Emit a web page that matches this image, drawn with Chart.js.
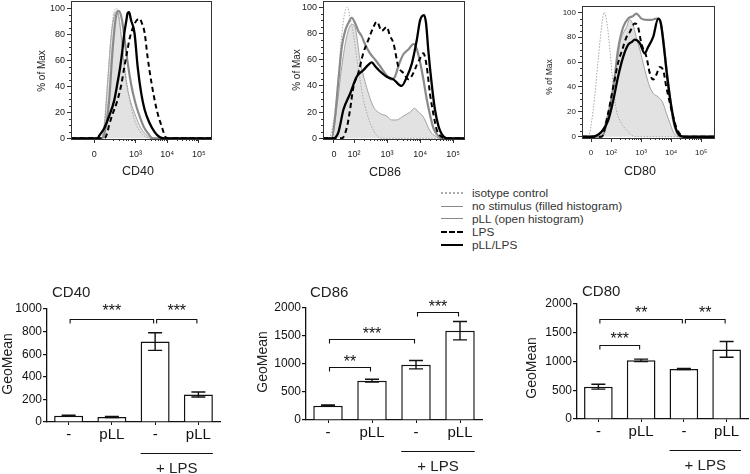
<!DOCTYPE html>
<html><head><meta charset="utf-8">
<script src="https://cdn.jsdelivr.net/npm/chart.js@4.4.1/dist/chart.umd.min.js"></script>
<style>
html,body{margin:0;padding:0;background:#fff;width:750px;height:474px;overflow:hidden;font-family:"Liberation Sans",Arial,sans-serif;}
canvas{position:absolute;}
#legend{position:absolute;left:441px;top:187px;font-size:11.8px;color:#333;}
#legend .row{height:12.8px;display:flex;align-items:center;white-space:nowrap;}
#legend .s{display:inline-block;width:22px;height:0;margin-right:9px;}
</style></head><body>
<canvas id="h40" width="240" height="185" style="left:0;top:0"></canvas>
<canvas id="h86" width="240" height="185" style="left:250px;top:0"></canvas>
<canvas id="h80" width="250" height="185" style="left:500px;top:0"></canvas>
<div id="legend">
  <div class="row"><span class="s" style="border-top:2px dotted #aaa"></span>isotype control</div>
  <div class="row"><span class="s" style="border-top:1.5px solid #888"></span>no stimulus (filled histogram)</div>
  <div class="row"><span class="s" style="border-top:1.5px solid #888"></span>pLL (open histogram)</div>
  <div class="row"><span class="s" style="border-top:2px dashed #000"></span>LPS</div>
  <div class="row"><span class="s" style="border-top:2.5px solid #000"></span>pLL/LPS</div>
</div>
<canvas id="b40" width="235" height="194" style="left:0;top:280px"></canvas>
<canvas id="b86" width="240" height="194" style="left:250px;top:280px"></canvas>
<canvas id="b80" width="250" height="194" style="left:500px;top:280px"></canvas>
<script>
// ---------- Histogram data: [axis position (decade units), % of Max] ----------
const HIST_Y_TICKS = [0, 20, 40, 60, 80, 100];

const CD40_TICK_POS = [1.70, 3, 4, 5];
const CD40_TICK_LABELS = ['0', '10³', '10⁴', '10⁵'];
const CD86_TICK_POS = [1.39, 2, 3, 4, 5];
const CD86_TICK_LABELS = ['0', '10²', '10³', '10⁴', '10⁵'];
const CD80_TICK_POS = [1.33, 2, 3, 4, 5];
const CD80_TICK_LABELS = ['0', '10²', '10³', '10⁴', '10⁵'];

const CD40_ISO = [[0.97,0],[1.90,0],[2.01,10],[2.11,40],[2.22,75],[2.32,97],[2.41,100],[2.48,92],[2.59,70],[2.69,50],[2.80,32],[2.96,15],[3.12,6],[3.33,1],[3.49,0],[5.38,0]];
const CD40_NOSTIM = [[0.97,0],[1.93,0],[2.03,12],[2.13,45],[2.24,80],[2.34,95],[2.43,98],[2.51,88],[2.62,62],[2.72,42],[2.85,28],[3.01,17],[3.17,8],[3.33,3],[3.49,0],[5.38,0]];
const CD40_PLL = [[0.97,0],[1.95,0],[2.07,9],[2.17,29],[2.28,68],[2.39,94],[2.47,98],[2.55,94],[2.62,84],[2.70,68],[2.86,42],[3.00,27],[3.13,17],[3.26,9],[3.39,4],[3.55,0],[5.38,0]];
const CD40_LPS = [[0.97,0],[2.02,0],[2.11,4],[2.17,10],[2.27,18],[2.43,29],[2.56,42],[2.65,55],[2.75,68],[2.81,76],[2.97,88],[3.13,92],[3.21,88],[3.29,81],[3.38,63],[3.51,42],[3.67,22],[3.83,9],[3.95,1],[4.05,0],[5.38,0]];
const CD40_PLLLPS = [[0.97,0],[1.80,0],[1.86,2],[2.02,8],[2.17,17],[2.33,29],[2.43,42],[2.52,55],[2.59,68],[2.65,81],[2.71,90],[2.75,96],[2.80,97],[2.86,91],[2.97,81],[3.07,55],[3.18,35],[3.29,22],[3.44,12],[3.60,5],[3.76,1],[3.90,0],[5.38,0]];

const CD86_ISO = [[1.06,0],[1.22,0],[1.27,1],[1.42,20],[1.53,50],[1.63,80],[1.73,97],[1.80,100],[1.88,92],[1.98,80],[2.08,62],[2.18,45],[2.28,30],[2.38,20],[2.48,12],[2.59,6],[2.69,2],[2.84,0],[5.33,0]];
const CD86_NOSTIM = [[1.06,0],[1.32,0],[1.47,22],[1.63,55],[1.78,78],[1.93,87],[2.03,85],[2.18,60],[2.38,39],[2.59,24],[2.79,19],[2.99,17],[3.14,14],[3.29,14],[3.49,17],[3.70,20],[3.83,23],[3.95,20],[4.05,18],[4.15,14],[4.25,8],[4.35,4],[4.51,1],[4.61,0],[5.33,0]];
const CD86_PLL = [[1.06,0],[1.32,0],[1.42,15],[1.53,45],[1.63,70],[1.73,82],[1.83,88],[1.93,92],[2.03,88],[2.13,82],[2.23,78],[2.33,72],[2.48,65],[2.64,60],[2.79,55],[2.99,48],[3.14,45],[3.24,47],[3.34,55],[3.49,64],[3.65,68],[3.80,72],[3.90,68],[4.00,58],[4.10,45],[4.20,30],[4.30,18],[4.40,8],[4.51,3],[4.66,0],[5.33,0]];
const CD86_LPS = [[1.06,0],[1.63,0],[1.78,8],[1.88,22],[1.98,39],[2.13,50],[2.28,65],[2.43,75],[2.59,85],[2.69,89],[2.84,82],[2.99,85],[3.09,78],[3.19,73],[3.34,55],[3.49,50],[3.65,45],[3.80,50],[3.90,56],[4.00,61],[4.10,65],[4.20,55],[4.30,34],[4.40,19],[4.51,6],[4.66,1],[4.76,0],[5.33,0]];
const CD86_PLLLPS = [[1.06,0],[1.37,0],[1.53,5],[1.68,22],[1.88,34],[2.08,47],[2.28,52],[2.43,56],[2.54,58],[2.64,55],[2.79,51],[2.99,47],[3.19,45],[3.44,40],[3.60,47],[3.75,57],[3.90,75],[4.00,90],[4.12,94],[4.18,88],[4.25,67],[4.35,42],[4.45,22],[4.56,9],[4.66,3],[4.81,0],[5.33,0]];

const CD80_ISO = [[1.03,0],[1.23,0],[1.40,21],[1.57,62],[1.68,88],[1.77,100],[1.88,88],[1.96,70],[2.07,40],[2.18,21],[2.34,11],[2.57,4],[2.79,0],[5.43,0]];
const CD80_NOSTIM = [[1.03,0],[1.57,0],[1.90,19],[2.07,38],[2.18,56],[2.29,75],[2.40,83],[2.51,88],[2.62,94],[2.73,90],[2.84,80],[2.96,70],[3.12,54],[3.29,40],[3.40,35],[3.57,32],[3.73,27],[3.84,19],[3.96,11],[4.07,4],[4.23,0],[5.43,0]];
const CD80_PLL = [[1.03,0],[1.68,0],[1.96,24],[2.12,48],[2.23,70],[2.40,88],[2.57,95],[2.73,97],[2.84,99],[3.01,95],[3.18,94],[3.34,94],[3.51,95],[3.62,94],[3.73,80],[3.84,56],[3.96,32],[4.07,13],[4.18,4],[4.34,0],[5.43,0]];
const CD80_LPS = [[1.03,0],[1.68,0],[1.90,19],[2.07,40],[2.23,59],[2.40,72],[2.51,80],[2.62,84],[2.79,91],[2.90,88],[3.01,75],[3.18,64],[3.29,51],[3.40,46],[3.51,50],[3.62,56],[3.73,54],[3.84,40],[3.96,27],[4.07,16],[4.18,7],[4.34,1],[4.46,0],[5.43,0]];
const CD80_PLLLPS = [[1.03,0],[1.34,0],[1.68,4],[1.90,13],[2.07,29],[2.23,48],[2.40,64],[2.57,74],[2.68,76],[2.79,78],[2.96,75],[3.12,67],[3.23,72],[3.40,80],[3.57,95],[3.66,91],[3.77,70],[3.88,46],[4.01,24],[4.14,8],[4.29,1],[4.46,0],[5.43,0]];

// ---------- Bar chart data ----------
const BAR_CATEGORIES = ['-', 'pLL', '-', 'pLL'];
const CD40_MEAN = [55, 45, 712, 243];
const CD40_ERR = [5, 5, 78, 22];
const CD86_MEAN = [255, 700, 985, 1590];
const CD86_ERR = [12, 25, 75, 163];
const CD80_MEAN = [562, 1020, 870, 1210];
const CD80_ERR = [43, 22, 10, 137];
// significance brackets: [from bar, to bar, height, label]
const CD40_SIG = [[0, 2, 910, '***'], [2, 3, 910, '***']];
const CD86_SIG = [[0, 1, 950, '**'], [0, 2, 1450, '***'], [2, 3, 1920, '***']];
const CD80_SIG = [[0, 1, 1290, '***'], [0, 2, 1735, '**'], [2, 3, 1735, '**']];

const FONT = '"Liberation Sans", Arial, sans-serif';
Chart.defaults.font.family = FONT;
Chart.defaults.color = '#222';

function drawTexts(ctx, texts) {
  for (const t of texts || []) {
    ctx.save();
    ctx.font = (t.size || 12) + 'px ' + FONT;
    ctx.fillStyle = '#222';
    ctx.textAlign = t.align || 'center';
    ctx.textBaseline = 'middle';
    ctx.translate(t.x, t.y);
    if (t.rot) ctx.rotate(t.rot * Math.PI / 180);
    ctx.fillText(t.t, 0, 0);
    ctx.restore();
  }
}

const histDeco = {
  id: 'histDeco',
  afterDraw(chart, args, o) {
    const ctx = chart.ctx, ca = chart.chartArea, xs = chart.scales.x, ys = chart.scales.y;
    ctx.save();
    ctx.strokeStyle = '#333'; ctx.lineWidth = 1;
    ctx.strokeRect(Math.round(ca.left) + 0.5, Math.round(ca.top) + 0.5, Math.round(ca.right - ca.left), Math.round(ca.bottom - ca.top));
    ctx.beginPath();
    for (let v = 5; v < 100; v += 5) {
      if (v % 20 === 0) continue;
      const p = Math.round(ys.getPixelForValue(v)) + 0.5;
      ctx.moveTo(ca.left, p); ctx.lineTo(ca.left - 2, p);
    }
    for (let n = o.minorFrom; n <= 4; n++) {
      for (let k = 2; k <= 9; k++) {
        const p = Math.round(xs.getPixelForValue(n + Math.log10(k))) + 0.5;
        ctx.moveTo(p, ca.bottom); ctx.lineTo(p, ca.bottom + 2);
      }
    }
    ctx.stroke();
    ctx.restore();
    drawTexts(ctx, o.texts);
  }
};

function xy(a) { return a.map(p => ({x: p[0], y: p[1]})); }

function histChart(id, c, xr, yr, tpos, tlab, layout, texts, tickFont, minorFrom) {
  const common = {pointRadius: 0, fill: false, cubicInterpolationMode: 'monotone'};
  new Chart(document.getElementById(id), {
    type: 'line',
    data: {datasets: [
      {...common, label: 'pLL/LPS', data: xy(c.pllLps), borderColor: '#000', borderWidth: 2.3, order: 1},
      {...common, label: 'LPS', data: xy(c.lps), borderColor: '#000', borderWidth: 2, borderDash: [5, 3.5], order: 2},
      {...common, label: 'pLL', data: xy(c.pll), borderColor: '#8a8a8a', borderWidth: 2.2, order: 3},
      {...common, label: 'isotype control', data: xy(c.iso), borderColor: '#a8a8a8', borderWidth: 1, borderDash: [1.5, 1.5], order: 4},
      {...common, label: 'no stimulus', data: xy(c.nostim), borderColor: '#9a9a9a', borderWidth: 0.9, backgroundColor: '#e2e2e2', fill: 'origin', order: 5}
    ]},
    options: {
      responsive: false, animation: false, devicePixelRatio: 1,
      layout: {padding: {left: 0, right: layout.right, top: layout.top, bottom: 0}},
      plugins: {legend: {display: false}, tooltip: {enabled: false}, histDeco: {texts, minorFrom}},
      scales: {
        x: {
          type: 'linear', min: xr[0], max: xr[1],
          afterBuildTicks: s => { s.ticks = tpos.map(v => ({value: v})); },
          ticks: {callback: (v, i) => tlab[i], autoSkip: false, maxRotation: 0, font: {size: tickFont}, padding: 6, color: '#222'},
          grid: {drawOnChartArea: false, drawTicks: true, tickLength: 4, color: '#333'},
          border: {display: false},
          afterFit: s => { s.height = layout.xh; s.paddingLeft = 0; s.paddingRight = 0; }
        },
        y: {
          min: yr[0], max: yr[1],
          afterBuildTicks: s => { s.ticks = HIST_Y_TICKS.map(v => ({value: v})); },
          ticks: {font: {size: tickFont}, padding: 2, color: '#222'},
          grid: {drawOnChartArea: false, drawTicks: true, tickLength: 4, color: '#333'},
          border: {display: false},
          afterFit: s => { s.width = layout.yw; s.paddingTop = 0; s.paddingBottom = 0; }
        }
      }
    },
    plugins: [histDeco]
  });
}

histChart('h40', {iso: CD40_ISO, nostim: CD40_NOSTIM, pll: CD40_PLL, lps: CD40_LPS, pllLps: CD40_PLLLPS},
  [0.97, 5.38], [-0.5, 105.6], CD40_TICK_POS, CD40_TICK_LABELS,
  {right: 29, top: 1, xh: 46, yw: 71},
  [{t: '% of Max', x: 42, y: 71, rot: -90, size: 10}, {t: 'CD40', x: 138, y: 172, size: 12.5}], 9, 2);

histChart('h86', {iso: CD86_ISO, nostim: CD86_NOSTIM, pll: CD86_PLL, lps: CD86_LPS, pllLps: CD86_PLLLPS},
  [1.06, 5.33], [-0.5, 104.8], CD86_TICK_POS, CD86_TICK_LABELS,
  {right: 26, top: 1, xh: 46, yw: 73},
  [{t: '% of Max', x: 47, y: 70, rot: -90, size: 10}, {t: 'CD86', x: 135, y: 173, size: 12.5}], 9, 2);

histChart('h80', {iso: CD80_ISO, nostim: CD80_NOSTIM, pll: CD80_PLL, lps: CD80_LPS, pllLps: CD80_PLLLPS},
  [1.03, 5.43], [-1.0, 105.1], CD80_TICK_POS, CD80_TICK_LABELS,
  {right: 36, top: 6, xh: 47, yw: 82},
  [{t: '% of Max', x: 50, y: 77, rot: -90, size: 8.5}, {t: 'CD80', x: 140, y: 172, size: 12.5}], 8, 2);

// ---------- Bar charts ----------
const barDeco = {
  id: 'barDeco',
  afterDatasetsDraw(chart, args, o) {
    const ctx = chart.ctx, ca = chart.chartArea, xs = chart.scales.x, ys = chart.scales.y;
    ctx.save();
    ctx.strokeStyle = '#111'; ctx.lineWidth = 1.4;
    o.mean.forEach((m, i) => {
      const x = xs.getPixelForValue(i);
      const yt = ys.getPixelForValue(m + o.err[i]), yb = ys.getPixelForValue(m - o.err[i]);
      ctx.beginPath();
      ctx.moveTo(x, yt); ctx.lineTo(x, yb);
      ctx.moveTo(x - 7, yt); ctx.lineTo(x + 7, yt);
      ctx.moveTo(x - 7, yb); ctx.lineTo(x + 7, yb);
      ctx.stroke();
    });
    ctx.lineWidth = 1.1;
    ctx.fillStyle = '#111';
    ctx.font = '16px ' + FONT; ctx.textAlign = 'center'; ctx.textBaseline = 'alphabetic';
    o.sig.forEach(([a, b, v, lab]) => {
      const x1 = xs.getPixelForValue(a) + 1.5, x2 = xs.getPixelForValue(b) - 1.5;
      const y = Math.round(ys.getPixelForValue(v)) + 0.5;
      ctx.beginPath();
      ctx.moveTo(x1, y + 4); ctx.lineTo(x1, y); ctx.lineTo(x2, y); ctx.lineTo(x2, y + 4);
      ctx.stroke();
      ctx.fillText(lab, (x1 + x2) / 2, y + 9.4 - o.starGap);
    });
    const meta = chart.getDatasetMeta(0);
    const bw = meta.data[2].width;
    const xl = xs.getPixelForValue(2) - bw / 2, xr = xs.getPixelForValue(3) + bw / 2;
    const yl = Math.round(ca.bottom + 30.5) + 0.5;
    ctx.lineWidth = 1.1;
    ctx.beginPath(); ctx.moveTo(xl, yl); ctx.lineTo(xr, yl); ctx.stroke();
    ctx.restore();
    drawTexts(ctx, [{t: '+ LPS', x: (xl + xr) / 2, y: ca.bottom + 46.5, size: 15}].concat(o.texts));
  }
};

function barChart(id, mean, err, sig, ymax, step, layout, texts, starGap) {
  new Chart(document.getElementById(id), {
    type: 'bar',
    data: {labels: BAR_CATEGORIES, datasets: [{data: mean, backgroundColor: '#fff', borderColor: '#111', borderWidth: 1.5, categoryPercentage: 1, barPercentage: 0.67}]},
    options: {
      responsive: false, animation: false, devicePixelRatio: 1,
      layout: {padding: {left: 0, right: layout.right, top: layout.top, bottom: 0}},
      plugins: {legend: {display: false}, tooltip: {enabled: false}, barDeco: {mean, err, sig, texts, starGap}},
      scales: {
        x: {
          ticks: {font: {size: 15}, color: '#111', padding: 1, autoSkip: false, maxRotation: 0},
          grid: {display: true, drawOnChartArea: false, drawTicks: true, tickLength: 3, offset: false, color: '#111'},
          border: {display: true, color: '#111', width: 1.3},
          afterFit: s => { s.height = layout.xh; s.paddingLeft = 0; s.paddingRight = 0; }
        },
        y: {
          min: 0, max: ymax,
          ticks: {stepSize: step, font: {size: 12}, color: '#111', padding: 1, callback: v => String(v)},
          grid: {drawOnChartArea: false, drawTicks: true, tickLength: 4, color: '#111', lineWidth: 1.2},
          border: {display: true, color: '#111', width: 1.3},
          afterFit: s => { s.width = layout.yw; s.paddingTop = 0; s.paddingBottom = 0; }
        }
      }
    },
    plugins: [barDeco]
  });
}

barChart('b40', CD40_MEAN, CD40_ERR, CD40_SIG, 1000, 200,
  {right: 15, top: 29, xh: 52, yw: 47},
  [{t: 'CD40', x: 52, y: 13, size: 15, align: 'left'}, {t: 'GeoMean', x: 8, y: 84, rot: -90, size: 14}], 13);

barChart('b86', CD86_MEAN, CD86_ERR, CD86_SIG, 2000, 500,
  {right: 8, top: 27.7, xh: 54, yw: 56},
  [{t: 'CD86', x: 60, y: 13, size: 15, align: 'left'}, {t: 'GeoMean', x: 13, y: 82, rot: -90, size: 14}], 9.5);

barChart('b80', CD80_MEAN, CD80_ERR, CD80_SIG, 2000, 500,
  {right: 2, top: 24, xh: 55, yw: 77},
  [{t: 'CD80', x: 82, y: 12, size: 15, align: 'left'}, {t: 'GeoMean', x: 32, y: 88, rot: -90, size: 14}], 11);
</script>
</body></html>
